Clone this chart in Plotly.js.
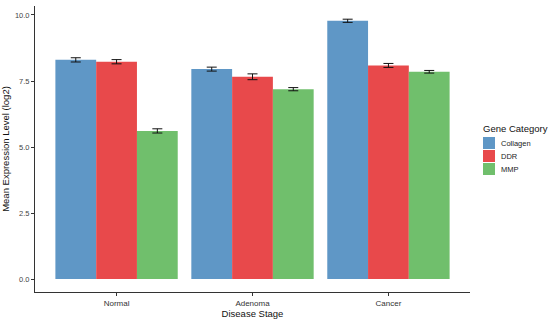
<!DOCTYPE html>
<html><head><meta charset="utf-8">
<script src="https://cdn.plot.ly/plotly-3.0.1.min.js"></script>
<style>body{margin:0;}#c{width:550px;height:320px;}</style>
</head><body><div id="c"></div>
<script>
const stages = ["Normal", "Adenoma", "Cancer"];
const collagen = [8.30, 7.95, 9.78];
const collagenErr = [0.08, 0.075, 0.06];
const ddr = [8.23, 7.66, 8.09];
const ddrErr = [0.08, 0.11, 0.075];
const mmp = [5.61, 7.19, 7.85];
const mmpErr = [0.08, 0.06, 0.05];
const categories = ["Collagen", "DDR", "MMP"];
const colors = ["#5f97c6", "#e8494b", "#70bf6c"];
const yTicks = [0, 2.5, 5, 7.5, 10];
const yTickText = ["0.0", "2.5", "5.0", "7.5", "10.0"];

function tr(name, y, e, color) {
  return {type: "bar", name: name, x: stages, y: y, marker: {color: color},
    error_y: {type: "data", array: e, visible: true, color: "#111", thickness: 1, width: 5}};
}
const series = [collagen, ddr, mmp];
const errs = [collagenErr, ddrErr, mmpErr];
const data = categories.map((c, i) => tr(c, series[i], errs[i], colors[i]));

// manual legend (plot area: x 35..470 px, y 6..292 px)
const W = 435, H = 286, L = 35, B = 292;
const px = x => (x - L) / W;
const py = y => (B - y) / H;
const shapes = [], annotations = [];
annotations.push({xref: "paper", yref: "paper", x: px(481), y: py(128), xanchor: "left", yanchor: "middle",
  text: "Gene Category", showarrow: false, font: {size: 9.5, color: "#111"}});
categories.forEach((c, i) => {
  const top = 137 + i * 13;
  shapes.push({type: "rect", xref: "paper", yref: "paper", x0: px(483), x1: px(495), y0: py(top + 12), y1: py(top),
    fillcolor: colors[i], line: {width: 0}});
  annotations.push({xref: "paper", yref: "paper", x: px(499), y: py(top + 6), xanchor: "left", yanchor: "middle",
    text: c, showarrow: false, font: {size: 7.5, color: "#222"}});
});

const font = {family: "Liberation Sans, Arial, sans-serif", color: "#222"};
const layout = {
  width: 550, height: 320,
  margin: {l: 35, r: 80, t: 6, b: 28},
  paper_bgcolor: "#fff", plot_bgcolor: "#fff",
  font: font,
  barmode: "group", bargap: 0.1, bargroupgap: 0,
  showlegend: false,
  shapes: shapes, annotations: annotations,
  xaxis: {range: [-0.6, 2.6], showline: true, linecolor: "#333", linewidth: 1,
    ticks: "outside", ticklen: 3, tickcolor: "#333", tickfont: {size: 8, color: "#333"},
    showgrid: false, zeroline: false,
    title: {text: "Disease Stage", font: {size: 9.5, color: "#111"}, standoff: 1}},
  yaxis: {range: [-0.49, 10.34], showline: true, linecolor: "#333", linewidth: 1,
    ticks: "outside", ticklen: 3, tickcolor: "#333", tickfont: {size: 7.5, color: "#444"},
    tickvals: yTicks, ticktext: yTickText,
    showgrid: false, zeroline: false,
    title: {text: "Mean Expression Level (log2)", font: {size: 9.5, color: "#111"}, standoff: 4}}
};
Plotly.newPlot("c", data, layout, {displayModeBar: false, staticPlot: true});
</script>
</body></html>
